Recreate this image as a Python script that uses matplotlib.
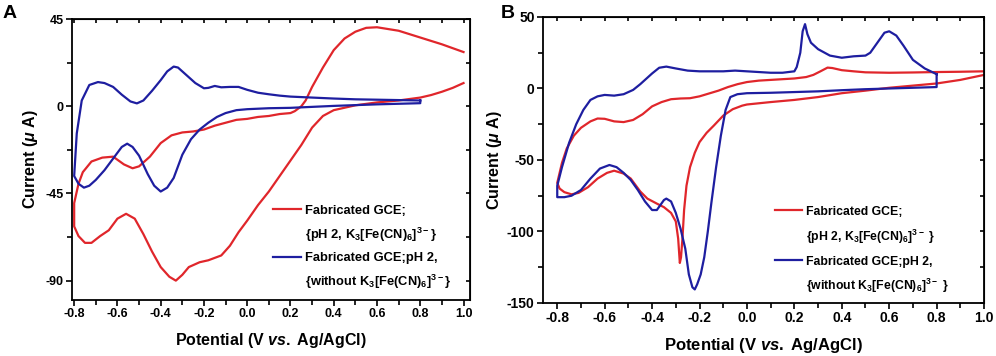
import matplotlib
matplotlib.use("Agg")
import matplotlib.pyplot as plt
from matplotlib.ticker import MultipleLocator
from matplotlib.lines import Line2D

plt.rcParams['font.family'] = ['Liberation Sans', 'DejaVu Sans']
plt.rcParams['font.weight'] = 'bold'
plt.rcParams['mathtext.fontset'] = 'custom'
plt.rcParams['mathtext.rm'] = 'Liberation Sans:bold'
plt.rcParams['mathtext.bf'] = 'Liberation Sans:bold'
plt.rcParams['mathtext.it'] = 'Liberation Sans:italic:bold'

RED = '#E0262B'
BLUE = '#1E1EA0'

# ---------------- Panel A data ----------------
a_red_x = [1.0, 0.9, 0.8, 0.7, 0.6, 0.55, 0.5, 0.45, 0.4, 0.35, 0.3, 0.27, 0.25, 0.22, 0.2,
           0.15, 0.1, 0.05, 0.0, -0.05, -0.1, -0.15, -0.2, -0.25, -0.3, -0.35, -0.4, -0.45,
           -0.5, -0.53, -0.57, -0.62, -0.67, -0.72, -0.76, -0.78, -0.8, -0.8,
           -0.78, -0.75, -0.72, -0.68, -0.64, -0.6, -0.56, -0.52, -0.48, -0.44, -0.4, -0.36,
           -0.33, -0.3, -0.27, -0.22, -0.18, -0.12, -0.08, -0.04, 0.0, 0.05, 0.1, 0.15, 0.2,
           0.25, 0.3, 0.35, 0.4, 0.5, 0.6, 0.7, 0.8, 0.85, 0.9, 0.95, 1.0]
a_red_y = [28, 32, 35.5, 39, 40.8, 40.5, 38.5, 35, 29, 20, 10, 3, 0, -2.5, -3.5,
           -4, -5, -5.5, -6.5, -7, -8.5, -10, -12, -13, -13.5, -15, -19, -26,
           -31, -32, -30, -26, -26.5, -28.5, -34, -40, -50, -62,
           -67, -70.5, -70.5, -67, -64, -58, -55.5, -58, -66, -75, -83, -88,
           -90, -87, -83, -80.5, -79.5, -77, -72, -65, -59, -51, -44, -36, -28,
           -20, -11, -5, -2, 0.5, 2, 3, 4.5, 5.8, 7.5, 9.5, 12]

a_blue_x = [0.8, 0.7, 0.6, 0.5, 0.4, 0.3, 0.2, 0.15, 0.1, 0.05, 0.0, -0.04, -0.08, -0.12,
            -0.15, -0.18, -0.2, -0.24, -0.28, -0.32, -0.34, -0.37, -0.4, -0.44, -0.48,
            -0.51, -0.54, -0.58, -0.62, -0.66, -0.69, -0.73, -0.765, -0.788, -0.8,
            -0.78, -0.755, -0.73, -0.7, -0.66, -0.62, -0.58, -0.555, -0.53, -0.5, -0.46,
            -0.43, -0.4, -0.37, -0.34, -0.3, -0.26, -0.22, -0.18, -0.14, -0.1, -0.05, 0.0,
            0.1, 0.2, 0.3, 0.4, 0.5, 0.6, 0.7, 0.8, 0.8]
a_blue_y = [3, 3.2, 3.4, 3.6, 4, 4.5, 5, 5.5, 6.2, 7, 8.5, 10, 10, 9.8,
            10.5, 9.5, 9.3, 12, 16, 20, 20.5, 18, 13.5, 8, 3,
            1.5, 2.5, 6, 10, 12, 12.5, 11, 3, -14, -36,
            -40, -42, -41, -38, -33, -27, -21, -19.3, -21, -25.5, -35,
            -41, -44, -42, -37, -25, -17, -12, -8.5, -5.5, -3.5, -2, -1.5,
            -1, -0.8, -0.3, 0.2, 0.6, 1, 1.3, 1.6, 3]

# ---------------- Panel B data ----------------
b_red_x = [1.0, 0.9, 0.8, 0.7, 0.6, 0.5, 0.45, 0.4, 0.36, 0.34, 0.31, 0.28, 0.25, 0.2, 0.15,
           0.1, 0.05, 0.0, -0.04, -0.08, -0.12, -0.16, -0.2, -0.24, -0.28, -0.32, -0.36,
           -0.4, -0.44, -0.48, -0.52, -0.56, -0.6, -0.63, -0.66, -0.7, -0.73, -0.76, -0.78,
           -0.8, -0.79, -0.77, -0.74, -0.71, -0.67, -0.63, -0.59, -0.56, -0.52, -0.49,
           -0.45, -0.42, -0.38, -0.35, -0.32, -0.3, -0.29, -0.283, -0.278, -0.272, -0.265,
           -0.255, -0.24, -0.22, -0.2, -0.17, -0.14, -0.1, -0.06, -0.02, 0.0, 0.1, 0.2,
           0.3, 0.4, 0.5, 0.6, 0.7, 0.8, 0.9, 1.0]
b_red_y = [12, 11.7, 11.5, 11.2, 11, 11.3, 12, 12.8, 14.3, 14.6, 12, 9.5, 8, 7, 6.5,
           6, 5.5, 4.5, 3, 1, -1.5, -3.5, -5.5, -6.8, -7, -7.5, -9.5,
           -12.5, -18, -22, -23.5, -23, -21.2, -21, -23, -27.5, -33, -42, -52,
           -66, -70, -72.5, -74, -73, -69, -63, -59, -57.5, -59.5, -63,
           -72, -77, -80.5, -83, -87, -93, -105, -122, -118, -105, -85,
           -68, -55, -45, -37.5, -31, -26, -19, -14.5, -12, -11.2, -9.5, -8,
           -6, -3.3, -1.5, 0.5, 2, 3.5, 6, 9.5]

b_blue_x = [0.8, 0.75, 0.7, 0.66, 0.63, 0.6, 0.58, 0.55, 0.52, 0.5, 0.45, 0.4, 0.35, 0.3,
            0.27, 0.255, 0.245, 0.235, 0.225, 0.21, 0.2, 0.15, 0.1, 0.05, 0.0, -0.05, -0.1,
            -0.2, -0.25, -0.3, -0.34, -0.37, -0.4, -0.45, -0.48, -0.52, -0.56, -0.6, -0.63,
            -0.66, -0.69, -0.72, -0.75, -0.78, -0.8, -0.8,
            -0.77, -0.74, -0.7, -0.66, -0.62, -0.58, -0.55, -0.52, -0.49, -0.46, -0.43,
            -0.4, -0.38, -0.35, -0.34, -0.32, -0.3, -0.28, -0.26, -0.245, -0.23, -0.22,
            -0.21, -0.195, -0.18, -0.165, -0.15, -0.13, -0.11, -0.09, -0.07, -0.04, 0.0,
            0.1, 0.2, 0.3, 0.4, 0.5, 0.6, 0.7, 0.8, 0.8]
b_blue_y = [10, 14, 20, 30, 37, 40, 39, 32, 25, 23, 22.5, 21.5, 23, 27.5,
            32, 38, 45, 40, 25, 15, 12, 11, 11, 11.5, 12, 12.5, 12,
            12, 12.5, 14, 15.3, 14.5, 10.5, 3, -1, -4, -5, -4.5, -5.5,
            -8, -15, -25, -38, -55, -68, -76,
            -76, -75, -71, -63, -56, -53.5, -55, -59, -64, -71, -79,
            -85, -85, -78, -77, -79, -87, -98, -112, -130, -139, -140.5,
            -137, -130, -118, -100, -80, -55, -33, -15, -6, -4, -3.3,
            -3, -2.5, -2, -1.2, -0.5, 0, 0.5, 1, 10]

x_ticks = [-0.8, -0.6, -0.4, -0.2, 0.0, 0.2, 0.4, 0.6, 0.8, 1.0]
a_yticks = [45, 0, -45, -90]
b_yticks = [50, 0, -50, -100, -150]

leg_labels_a = ['Fabricated GCE;', r'{pH 2, K$_3$[Fe(CN)$_6$]$^{3-}$}',
                'Fabricated GCE;pH 2,', r'{without K$_3$[Fe(CN)$_6$]$^{3-}$}']
leg_labels_b = ['Fabricated GCE;', r'{pH 2, K$_3$[Fe(CN)$_6$]$^{3-}$ }',
                'Fabricated GCE;pH 2,', r'{without K$_3$[Fe(CN)$_6$]$^{3-}$ }']

fig = plt.figure(figsize=(9.96, 3.56), dpi=100)
axA = fig.add_axes([0.0723, 0.1573, 0.3996, 0.789])
axB = fig.add_axes([0.5452, 0.1489, 0.4428, 0.8034])


def style(ax, ymaj, ymin, tsize):
    ax.xaxis.set_minor_locator(MultipleLocator(0.1))
    ax.yaxis.set_minor_locator(MultipleLocator(ymin))
    ax.set_xticks(x_ticks)
    ax.set_xticklabels(['%.1f' % v for v in x_ticks])
    ax.tick_params(which='both', direction='out', top=False, right=False,
                   labelsize=tsize, width=1.2, pad=2)
    ax.tick_params(which='major', length=4)
    ax.tick_params(which='minor', length=3.5)
    for s in ax.spines.values():
        s.set_linewidth(1.3)
    sec_x = ax.secondary_xaxis('top')
    sec_x.set_xticks(x_ticks)
    sec_x.xaxis.set_minor_locator(MultipleLocator(0.1))
    sec_x.tick_params(which='both', direction='in', length=3, width=1.2, labeltop=False)
    sec_y = ax.secondary_yaxis('right')
    sec_y.yaxis.set_major_locator(MultipleLocator(ymaj))
    sec_y.yaxis.set_minor_locator(MultipleLocator(ymin))
    sec_y.tick_params(which='both', direction='in', length=3, width=1.2, labelright=False)


def legend(ax, labels, fsize, loc_anchor, lspace):
    h_red = Line2D([], [], color=RED, lw=1.6)
    h_blue = Line2D([], [], color=BLUE, lw=1.6)
    h_none = Line2D([], [], color='none', lw=0)
    leg = ax.legend([h_red, h_none, h_blue, h_none], labels, loc='upper left',
                    bbox_to_anchor=loc_anchor, frameon=False,
                    prop={'size': fsize, 'weight': 'bold'}, handlelength=2.2,
                    handletextpad=0.3, labelspacing=lspace, borderaxespad=0,
                    borderpad=0)
    return leg

# Panel A
axA.plot(a_red_x, a_red_y, color=RED, lw=1.6)
axA.plot(a_blue_x, a_blue_y, color=BLUE, lw=1.6)
axA.set_xlim(-0.81, 1.03)
axA.set_ylim(-100, 45)
style(axA, 45, 22.5, 9)
axA.set_yticks(a_yticks)
axA.set_yticklabels([str(v) for v in a_yticks])
axA.set_xlabel(r'Potential (V $\mathit{vs.}$ Ag/AgCl)', fontsize=11.5, fontweight='bold', labelpad=8)
axA.set_ylabel(r'Current ($\mathit{\mu}$ A)', fontsize=11.5, fontweight='bold', labelpad=4)
legend(axA, leg_labels_a, 9.3, (0.505, 0.34), 0.68)
fig.text(0.003, 0.985, 'A', fontsize=14, fontweight='bold', va='top', ha='left')

# Panel B
axB.plot(b_red_x, b_red_y, color=RED, lw=1.6)
axB.plot(b_blue_x, b_blue_y, color=BLUE, lw=1.6)
axB.set_xlim(-0.86, 1.0)
axB.set_ylim(-150, 50)
style(axB, 50, 25, 10)
axB.set_yticks(b_yticks)
axB.set_yticklabels([str(v) for v in b_yticks])
axB.set_xlabel(r'Potential (V $\mathit{vs.}$ Ag/AgCl)', fontsize=12, fontweight='bold', labelpad=8)
axB.set_ylabel(r'Current ($\mathit{\mu}$ A)', fontsize=11.5, fontweight='bold', labelpad=2)
legend(axB, leg_labels_b, 8.8, (0.527, 0.34), 0.8)
fig.text(0.503, 0.985, 'B', fontsize=14, fontweight='bold', va='top', ha='left')

for ax in (axA, axB):
    for lab in ax.get_xticklabels() + ax.get_yticklabels():
        lab.set_fontweight('bold')

fig.savefig('out.png', dpi=100)
